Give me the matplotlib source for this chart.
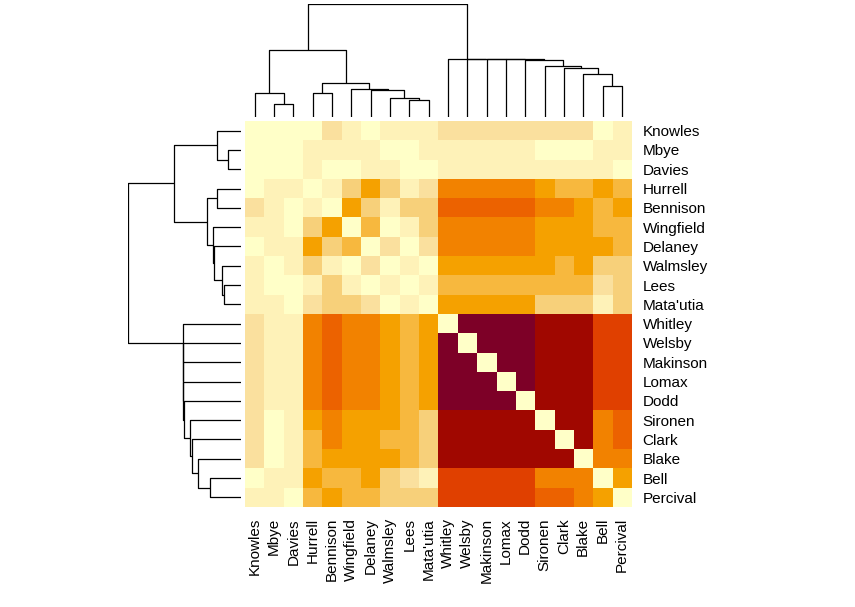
import numpy as np
import matplotlib
matplotlib.use("Agg")
import matplotlib.pyplot as plt
from matplotlib.colors import ListedColormap

plt.rcParams['font.family'] = ['Liberation Sans', 'DejaVu Sans']

# names in the order they are shown (rows top->bottom, columns left->right)
names = ["Knowles", "Mbye", "Davies", "Hurrell", "Bennison", "Wingfield",
         "Delaney", "Walmsley", "Lees", "Mata'utia", "Whitley", "Welsby",
         "Makinson", "Lomax", "Dodd", "Sironen", "Clark", "Blake", "Bell",
         "Percival"]

# colour level of each cell, 0 = palest, 10 = darkest
levels = [
    [0, 0, 0, 0, 2, 1, 0, 1, 1, 1, 2, 2, 2, 2, 2, 2, 2, 2, 0, 1],
    [0, 0, 0, 1, 1, 1, 1, 0, 0, 1, 1, 1, 1, 1, 1, 0, 0, 0, 1, 1],
    [0, 0, 0, 1, 0, 0, 1, 1, 0, 0, 1, 1, 1, 1, 1, 1, 1, 1, 1, 0],
    [0, 1, 1, 0, 1, 3, 5, 3, 1, 2, 6, 6, 6, 6, 6, 5, 4, 4, 5, 4],
    [2, 1, 0, 1, 0, 5, 3, 1, 3, 3, 7, 7, 7, 7, 7, 6, 6, 5, 4, 5],
    [1, 1, 0, 3, 5, 0, 4, 0, 1, 3, 6, 6, 6, 6, 6, 5, 5, 5, 4, 4],
    [0, 1, 1, 5, 3, 4, 0, 2, 0, 2, 6, 6, 6, 6, 6, 5, 5, 5, 5, 4],
    [1, 0, 1, 3, 1, 0, 2, 0, 1, 0, 5, 5, 5, 5, 5, 5, 4, 5, 3, 3],
    [1, 0, 0, 1, 3, 1, 0, 1, 0, 1, 4, 4, 4, 4, 4, 4, 4, 4, 2, 3],
    [1, 1, 0, 2, 3, 3, 2, 0, 1, 0, 5, 5, 5, 5, 5, 3, 3, 3, 1, 3],
    [2, 1, 1, 6, 7, 6, 6, 5, 4, 5, 0, 10, 10, 10, 10, 9, 9, 9, 8, 8],
    [2, 1, 1, 6, 7, 6, 6, 5, 4, 5, 10, 0, 10, 10, 10, 9, 9, 9, 8, 8],
    [2, 1, 1, 6, 7, 6, 6, 5, 4, 5, 10, 10, 0, 10, 10, 9, 9, 9, 8, 8],
    [2, 1, 1, 6, 7, 6, 6, 5, 4, 5, 10, 10, 10, 0, 10, 9, 9, 9, 8, 8],
    [2, 1, 1, 6, 7, 6, 6, 5, 4, 5, 10, 10, 10, 10, 0, 9, 9, 9, 8, 8],
    [2, 0, 1, 5, 6, 5, 5, 5, 4, 3, 9, 9, 9, 9, 9, 0, 9, 9, 6, 7],
    [2, 0, 1, 4, 6, 5, 5, 4, 4, 3, 9, 9, 9, 9, 9, 9, 0, 9, 6, 7],
    [2, 0, 1, 4, 5, 5, 5, 5, 4, 3, 9, 9, 9, 9, 9, 9, 9, 0, 6, 6],
    [0, 1, 1, 5, 4, 4, 5, 3, 2, 1, 8, 8, 8, 8, 8, 6, 6, 6, 0, 5],
    [1, 1, 0, 4, 5, 4, 4, 3, 3, 3, 8, 8, 8, 8, 8, 7, 7, 6, 5, 0],
]

palette = ["#FFFFC8", "#FEF2B8", "#FAE09E", "#F7D07A", "#F7B83E", "#F5A100",
           "#F28200", "#EC6200", "#E04000", "#A00700", "#7D0027"]

# merges of the clustering (same tree for rows and columns):
# (left, right, height); ids >= 20 refer to earlier merges
merges = [
    (1, 2, 37), (0, 20, 70), (3, 4, 70), (8, 9, 49), (7, 23, 55),
    (6, 24, 79), (5, 25, 82), (22, 26, 100), (21, 27, 199), (18, 19, 91),
    (17, 29, 127), (16, 30, 145), (15, 31, 151), (14, 32, 169),
    (13, 33, 172), (12, 34, 172), (11, 35, 172), (10, 36, 172),
    (28, 37, 337),
]


def draw_dendro(ax, merges, n, vertical):
    """draw the tree; leaves sit at positions 0..n-1, height grows away from the heatmap"""
    pos = {i: float(i) for i in range(n)}
    hgt = {i: 0.0 for i in range(n)}
    for k, (a, b, h) in enumerate(merges):
        xs = [pos[a], pos[a], pos[b], pos[b]]
        ys = [hgt[a], h, h, hgt[b]]
        if vertical:
            ax.plot(xs, ys, color="black", lw=0.9, solid_capstyle="butt")
        else:
            ax.plot(ys, xs, color="black", lw=0.9, solid_capstyle="butt")
        pos[n + k] = (pos[a] + pos[b]) / 2
        hgt[n + k] = h
    ax.set_axis_off()


W, H = 855, 607
fig = plt.figure(figsize=(W / 100, H / 100), dpi=100)

hx0, hx1 = 245, 631.5
hy0, hy1 = 121, 507
n = len(names)
top_h = merges[-1][2]

# heatmap
ax = fig.add_axes([hx0 / W, 1 - hy1 / H, (hx1 - hx0) / W, (hy1 - hy0) / H])
ax.imshow(np.array(levels), cmap=ListedColormap(palette), vmin=-0.5,
          vmax=len(palette) - 0.5, aspect="auto", interpolation="nearest")
ax.set_xticks(range(n))
ax.set_xticklabels(names, rotation=90, fontsize=11)
ax.set_yticks(range(n))
ax.set_yticklabels(names, fontsize=11)
ax.yaxis.tick_right()
ax.tick_params(length=0, pad=8)
for s in ax.spines.values():
    s.set_visible(False)

# column dendrogram
dy0, dy1 = 4.3, 116.7
axc = fig.add_axes([hx0 / W, 1 - dy1 / H, (hx1 - hx0) / W, (dy1 - dy0) / H])
draw_dendro(axc, merges, n, vertical=True)
axc.set_xlim(-0.5, n - 0.5)
axc.set_ylim(0, top_h)

# row dendrogram
dx0, dx1 = 128.3, 240.7
axr = fig.add_axes([dx0 / W, 1 - hy1 / H, (dx1 - dx0) / W, (hy1 - hy0) / H])
draw_dendro(axr, merges, n, vertical=False)
axr.set_ylim(n - 0.5, -0.5)
axr.set_xlim(top_h, 0)

fig.savefig("out.png", dpi=100)
